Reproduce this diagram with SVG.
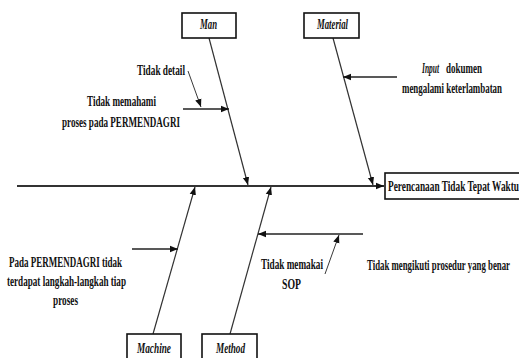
<svg xmlns="http://www.w3.org/2000/svg" width="519" height="358" viewBox="0 0 519 358">
<defs>
<marker id="ah" viewBox="0 0 10 10" refX="10" refY="5" markerWidth="8" markerHeight="8" markerUnits="userSpaceOnUse" orient="auto">
<path d="M0,1 L10,5 L0,9 z" fill="#111"/>
</marker>
</defs>
<style>
.t{font-family:"Liberation Serif","Times New Roman",serif;font-size:14px;font-weight:bold;fill:#111}
.i{font-style:italic}
.box{fill:#fff;stroke:#111;stroke-width:1.6}
.ln{stroke:#333;stroke-width:1.2;fill:none;marker-end:url(#ah)}
.sp{stroke:#333;stroke-width:1.8;fill:none;marker-end:url(#ah)}
.thin{stroke:#222;stroke-width:0.9;fill:none;marker-end:url(#ah)}
.hz{stroke:#222;stroke-width:1.6;fill:none;marker-end:url(#ah)}
</style>
<rect width="519" height="358" fill="#fff"/>
<g id="connectors">
<line class="sp" x1="17" y1="186" x2="384" y2="186"/>
<line class="ln" x1="209" y1="38" x2="248" y2="185"/>
<line class="ln" x1="333" y1="38" x2="373" y2="185"/>
<line class="ln" x1="153" y1="334" x2="195" y2="187"/>
<line class="ln" x1="230" y1="334" x2="271" y2="187"/>
<line class="hz" x1="183" y1="109" x2="229" y2="109"/>
<line class="thin" x1="188" y1="71" x2="201" y2="107"/>
<line class="hz" x1="397" y1="77" x2="343" y2="77"/>
<line class="hz" x1="132" y1="249" x2="178" y2="249"/>
<line class="hz" x1="363" y1="234" x2="258" y2="234"/>
<line class="thin" x1="325" y1="274" x2="339" y2="235"/>
</g>
<g id="man">
<rect class="box" x="182" y="13" width="54" height="25"/>
<text class="t i" transform="translate(200,29) scale(0.66,1)" textLength="25.8" lengthAdjust="spacingAndGlyphs">Man</text>
</g>
<g id="material">
<rect class="box" x="304" y="13" width="55" height="25"/>
<text class="t i" transform="translate(317,29) scale(0.66,1)" textLength="47" lengthAdjust="spacingAndGlyphs">Material</text>
</g>
<g id="machine">
<rect class="box" x="127" y="334" width="54" height="30"/>
<text class="t i" transform="translate(137,353) scale(0.66,1)" textLength="51.5" lengthAdjust="spacingAndGlyphs">Machine</text>
</g>
<g id="method">
<rect class="box" x="202" y="334" width="55" height="30"/>
<text class="t i" transform="translate(216,353) scale(0.66,1)" textLength="44" lengthAdjust="spacingAndGlyphs">Method</text>
</g>
<g id="effect">
<rect class="box" x="385" y="173" width="140" height="26"/>
<text class="t" transform="translate(388,191) scale(0.66,1)" textLength="198.5" lengthAdjust="spacingAndGlyphs">Perencanaan Tidak Tepat Waktu</text>
</g>
<g id="cause-tidak-detail">
<text class="t" transform="translate(137,75) scale(0.66,1)" textLength="72.7" lengthAdjust="spacingAndGlyphs">Tidak detail</text>
</g>
<g id="cause-tidak-memahami">
<text class="t" transform="translate(87,106) scale(0.66,1)" textLength="104.5" lengthAdjust="spacingAndGlyphs">Tidak memahami</text>
<text class="t" transform="translate(62,127) scale(0.66,1)" textLength="178.8" lengthAdjust="spacingAndGlyphs">proses pada PERMENDAGRI</text>
</g>
<g id="cause-input">
<text class="t i" transform="translate(422,73) scale(0.66,1)" textLength="25.8" lengthAdjust="spacingAndGlyphs">Input</text>
<text class="t" transform="translate(446,73) scale(0.66,1)" textLength="54.5" lengthAdjust="spacingAndGlyphs">dokumen</text>
<text class="t" transform="translate(402,93) scale(0.66,1)" textLength="151.5" lengthAdjust="spacingAndGlyphs">mengalami keterlambatan</text>
</g>
<g id="cause-pada">
<text class="t" transform="translate(9,267) scale(0.66,1)" textLength="171.2" lengthAdjust="spacingAndGlyphs">Pada PERMENDAGRI tidak</text>
<text class="t" transform="translate(7,286) scale(0.66,1)" textLength="180.3" lengthAdjust="spacingAndGlyphs">terdapat langkah-langkah tiap</text>
<text class="t" transform="translate(53,305) scale(0.66,1)" textLength="37.9" lengthAdjust="spacingAndGlyphs">proses</text>
</g>
<g id="cause-tidak-mengikuti">
<text class="t" transform="translate(367,270) scale(0.66,1)" textLength="216.7" lengthAdjust="spacingAndGlyphs">Tidak mengikuti prosedur yang benar</text>
</g>
<g id="cause-sop">
<text class="t" transform="translate(261,269) scale(0.66,1)" textLength="93.9" lengthAdjust="spacingAndGlyphs">Tidak memakai</text>
<text class="t" transform="translate(282,289) scale(0.66,1)" textLength="28.8" lengthAdjust="spacingAndGlyphs">SOP</text>
</g>
</svg>
